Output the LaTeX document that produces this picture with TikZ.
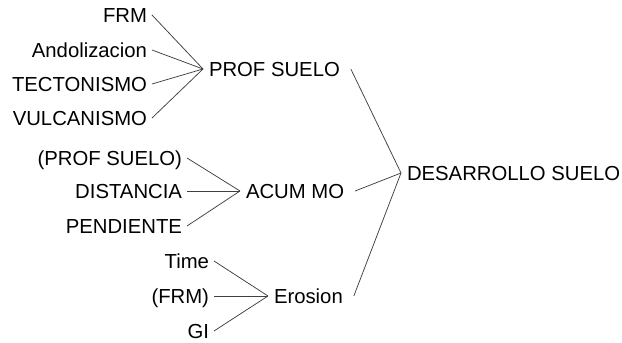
\documentclass[tikz,border=0pt]{standalone}
\usepackage{fontspec}
\setmainfont{Liberation Sans}
\begin{document}
\begin{tikzpicture}[x=1pt,y=-1pt,
  every node/.style={inner sep=0pt, text height=14pt, text depth=0pt,
    font=\fontsize{20.3}{24}\selectfont},
  src/.style={anchor=east, outer xsep=5pt},
  tgt/.style={anchor=west, outer xsep=6pt},
  link/.style={draw=black!75, line width=0.75pt}]
\useasboundingbox (0,0) rectangle (622,343);

% first group: soil depth
\node[src] (frm)  at (152,15)  {FRM};
\node[src] (ando) at (152,50)  {Andolizacion};
\node[src] (tect) at (152,84)  {TECTONISMO};
\node[src] (vulc) at (152,118) {VULCANISMO};
\node[tgt] (prof) at (203,69)  {PROF SUELO};

% second group: organic matter accumulation
\node[src] (profb) at (187,158) {(PROF SUELO)};
\node[src] (dist)  at (187,191) {DISTANCIA};
\node[src] (pend)  at (187,226) {PENDIENTE};
\node[tgt] (acum)  at (240,191) {ACUM MO};

% third group: erosion
\node[src] (time) at (214,261) {Time};
\node[src] (frmb) at (214,296) {(FRM)};
\node[src] (gi)   at (214,331) {GI};
\node[tgt] (eros) at (268,296) {Erosion};

% final outcome
\node[tgt] (des) at (401,173) {DESARROLLO SUELO};

\foreach \s in {frm,ando,tect,vulc} \draw[link] (\s.east) -- (prof.west);
\foreach \s in {profb,dist,pend} \draw[link] (\s.east) -- (acum.west);
\foreach \s in {time,frmb,gi} \draw[link] (\s.east) -- (eros.west);
\foreach \s in {prof,acum,eros} \draw[link] ([xshift=5pt]\s.east) -- (des.west);
\end{tikzpicture}
\end{document}
